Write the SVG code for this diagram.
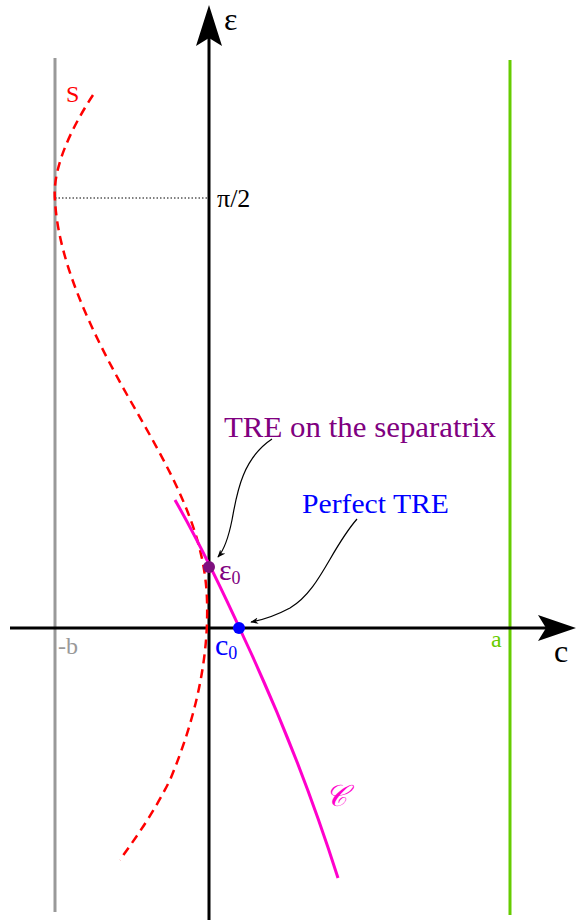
<svg xmlns="http://www.w3.org/2000/svg" width="576" height="922" viewBox="0 0 576 922">
<style>
text{font-family:"Liberation Serif","DejaVu Serif",serif}
.ax{stroke:#000;stroke-width:3;fill:none}
</style>
<defs>
<marker id="sm" viewBox="0 0 10 10" refX="9" refY="5" markerWidth="8" markerHeight="8" orient="auto" markerUnits="userSpaceOnUse">
<path d="M0,1 L10,5 L0,9 L3,5 Z" fill="#000"/>
</marker>
</defs>
<rect width="576" height="922" fill="#fff"/>
<g id="bounds">
<line x1="55" y1="58" x2="55" y2="912" stroke="#999" stroke-width="3"/>
<line x1="510" y1="60" x2="510" y2="915" stroke="#66cc00" stroke-width="3"/>
</g>
<g id="axes">
<line class="ax" x1="209" y1="920" x2="209" y2="30"/>
<path d="M209,5 L222,46 L209,38 L196,46 Z" fill="#000"/>
<line class="ax" x1="10" y1="628" x2="550" y2="628"/>
<path d="M576,628 L538,641 L546,628 L538,615 Z" fill="#000"/>
<line x1="55" y1="198" x2="209" y2="198" stroke="#000" stroke-width="1" stroke-dasharray="1.5,2"/>
</g>
<g id="separatrix">
<path d="M93,95 C70,130 52,170 55,200 C58,260 90,330 130,400 C170,470 205,530 207,600 C209,660 195,720 170,780 C150,820 130,845 120,860" fill="none" stroke="#ff0000" stroke-width="2.5" stroke-dasharray="9,6"/>
</g>
<g id="curveC">
<path d="M175,500 C195,535 220,585 245,640 C280,715 310,790 338,878" fill="none" stroke="#ff00cc" stroke-width="3"/>
</g>
<g id="connectors">
<path d="M272,439 C240,460 236,500 232,520 C228,540 224,550 218,557" fill="none" stroke="#000" stroke-width="1.2" marker-end="url(#sm)"/>
<path d="M357,519 C330,550 320,590 290,608 C275,616 262,620 251,622" fill="none" stroke="#000" stroke-width="1.2" marker-end="url(#sm)"/>
</g>
<g id="points">
<circle cx="209" cy="567" r="6" fill="#7f0f7f"/>
<circle cx="239" cy="628" r="6" fill="#0000ff"/>
</g>
<g id="labels">
<text x="224" y="30" font-size="32">ε</text>
<text x="66" y="102" font-size="24" fill="#ff0000">S</text>
<text x="217" y="207" font-size="26">π/2</text>
<text x="224" y="437" font-size="29" fill="#800080" textLength="272" lengthAdjust="spacingAndGlyphs">TRE on the separatrix</text>
<text x="302" y="513" font-size="27" fill="#0000ff" textLength="147" lengthAdjust="spacingAndGlyphs">Perfect TRE</text>
<text x="219" y="580" font-size="30" fill="#800080">ε<tspan font-size="18" dy="4">0</tspan></text>
<text x="215" y="655" font-size="30" fill="#0000ff">c<tspan font-size="18" dy="4">0</tspan></text>
<text x="58" y="654" font-size="24" fill="#999">-b</text>
<text x="491" y="647" font-size="24" fill="#66cc00">a</text>
<text x="554" y="662" font-size="32">c</text>
<text x="325" y="806" font-size="30" fill="#ff00cc" font-style="italic">𝒞</text>
</g>
</svg>
